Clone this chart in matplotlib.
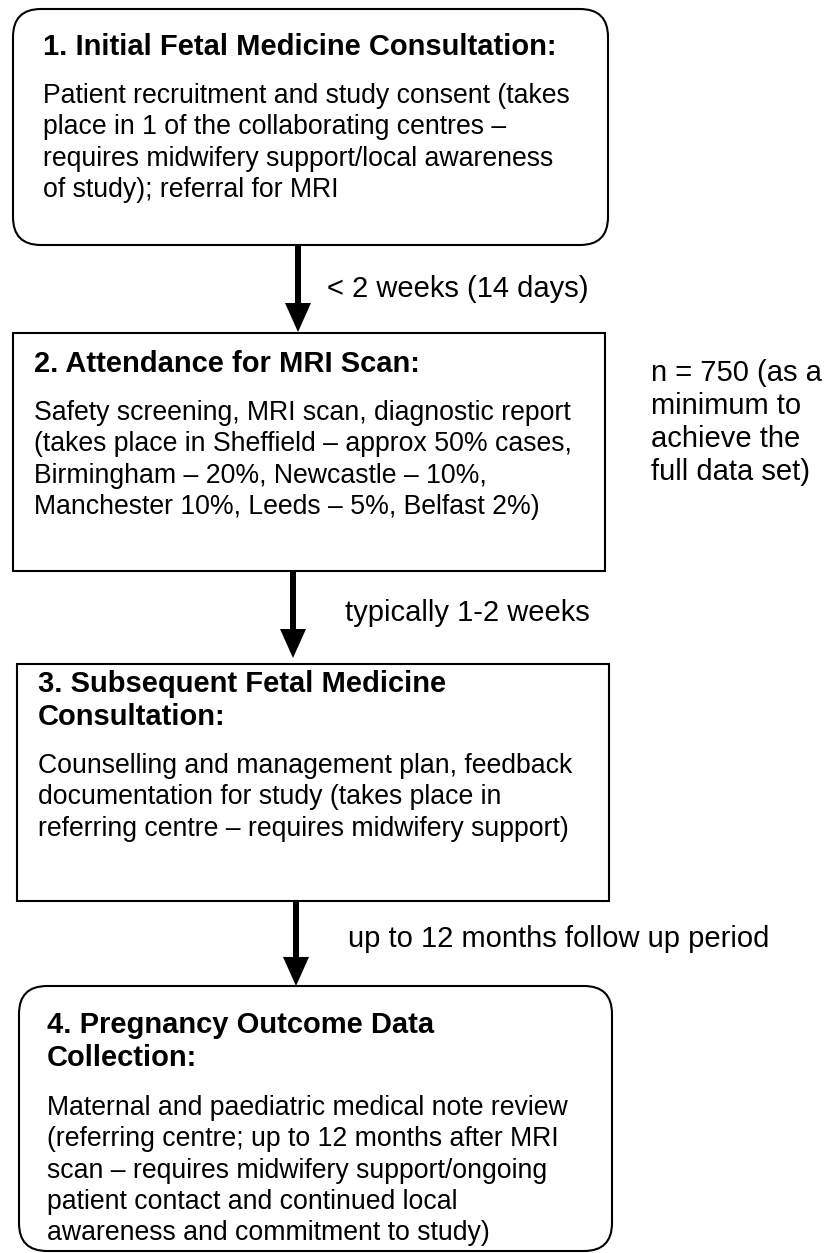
import matplotlib
matplotlib.use("Agg")
import matplotlib.pyplot as plt
from matplotlib.patches import FancyBboxPatch, Rectangle, FancyArrow

# ---- content ----
titles = [
    ["1. Initial Fetal Medicine Consultation:"],
    ["2. Attendance for MRI Scan:"],
    ["3. Subsequent Fetal Medicine", "Consultation:"],
    ["4. Pregnancy Outcome Data", "Collection:"],
]
bodies = [
    ["Patient recruitment and study consent (takes",
     "place in 1 of the collaborating centres \u2013",
     "requires midwifery support/local awareness",
     "of study); referral for MRI"],
    ["Safety screening, MRI scan, diagnostic report",
     "(takes place in Sheffield \u2013 approx 50% cases,",
     "Birmingham \u2013 20%, Newcastle \u2013 10%,",
     "Manchester 10%, Leeds \u2013 5%, Belfast 2%)"],
    ["Counselling and management plan, feedback",
     "documentation for study (takes place in",
     "referring centre \u2013 requires midwifery support)"],
    ["Maternal and paediatric medical note review",
     "(referring centre; up to 12 months after MRI",
     "scan \u2013 requires midwifery support/ongoing",
     "patient contact and continued local",
     "awareness and commitment to study)"],
]
arrow_labels = ["< 2 weeks (14 days)", "typically 1-2 weeks",
                "up to 12 months follow up period"]
side_note = ["n = 750 (as a", "minimum to", "achieve the", "full data set)"]

# ---- layout (pixels) ----
W, H = 827, 1253
box_geom = [  # x0, y0, x1, y1, rounded
    (13, 9, 608, 245, True),
    (13, 333, 605, 571, False),
    (17, 664, 609, 901, False),
    (19, 986, 612, 1251, True),
]
text_x = [43, 34, 38, 47]
title_base = [[55], [372], [692, 725], [1033, 1066]]
body_start = [103, 420, 773, 1115]
body_step = 31.3
arrows = [(298, 245, 332), (293, 571, 658), (296, 901, 986)]
label_pos = [(327, 297), (345, 621), (348, 947)]
side_x, side_base = 651, [381, 414, 447, 480]

FONT = "Liberation Sans"
BODY_FS = 19.2
TITLE_FS = 21
LABEL_FS = 21

fig = plt.figure(figsize=(W / 100, H / 100), dpi=100)
ax = fig.add_axes([0, 0, 1, 1])
ax.set_xlim(0, W)
ax.set_ylim(H, 0)
ax.axis("off")

for i, (x0, y0, x1, y1, rounded) in enumerate(box_geom):
    if rounded:
        p = FancyBboxPatch((x0, y0), x1 - x0, y1 - y0,
                           boxstyle="round,pad=0,rounding_size=28",
                           facecolor="white", edgecolor="black", lw=1.5)
    else:
        p = Rectangle((x0, y0), x1 - x0, y1 - y0,
                      facecolor="white", edgecolor="black", lw=1.5)
    ax.add_patch(p)
    for line, yb in zip(titles[i], title_base[i]):
        ax.text(text_x[i], yb, line, fontsize=TITLE_FS, fontweight="bold",
                family=FONT, va="baseline", ha="left", color="black")
    for j, line in enumerate(bodies[i]):
        ax.text(text_x[i], body_start[i] + j * body_step, line,
                fontsize=BODY_FS, family=FONT, va="baseline", ha="left",
                color="black")

for (x, ya, yb), lab, (lx, ly) in zip(arrows, arrow_labels, label_pos):
    ax.add_patch(FancyArrow(x, ya, 0, yb - ya, width=6, head_width=26,
                            head_length=29, length_includes_head=True,
                            color="black", lw=0))
    ax.text(lx, ly, lab, fontsize=LABEL_FS, family=FONT, va="baseline",
            ha="left", color="black")

for line, yb in zip(side_note, side_base):
    ax.text(side_x, yb, line, fontsize=LABEL_FS, family=FONT, va="baseline",
            ha="left", color="black")

fig.savefig("out.png", dpi=100, facecolor="white")
